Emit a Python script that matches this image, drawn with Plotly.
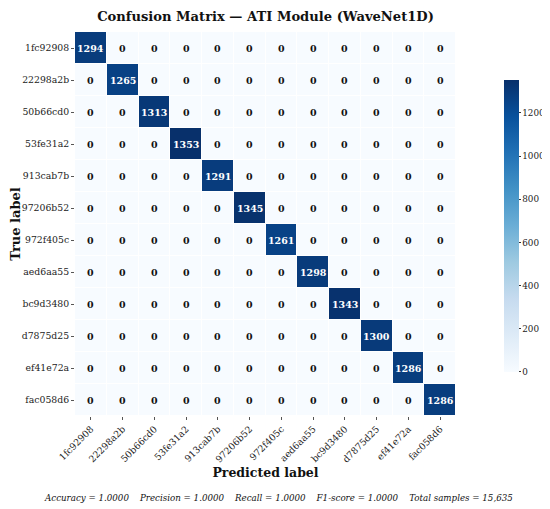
import plotly.graph_objects as go
import numpy as np

labels = ["1fc92908", "22298a2b", "50b66cd0", "53fe31a2", "913cab7b", "97206b52",
          "972f405c", "aed6aa55", "bc9d3480", "d7875d25", "ef41e72a", "fac058d6"]
diag_counts = [1294, 1265, 1313, 1353, 1291, 1345, 1261, 1298, 1343, 1300, 1286, 1286]
metrics_text = ("Accuracy = 1.0000    Precision = 1.0000    Recall = 1.0000    "
                "F1-score = 1.0000    Total samples = 15,635")

cm = np.diag(diag_counts)
n = len(labels)

blues = [[0.0, "#f7fbff"], [0.125, "#deebf7"], [0.25, "#c6dbef"], [0.375, "#9ecae1"],
         [0.5, "#6baed6"], [0.625, "#4292c6"], [0.75, "#2171b5"], [0.875, "#08519c"],
         [1.0, "#08306b"]]

font = "DejaVu Serif"
zmax = cm.max()

# page body has an 8px margin, so the figure is sized to 542x501
fig = go.Figure(go.Heatmap(
    z=cm, x=labels, y=labels,
    colorscale=blues, zmin=0, zmax=zmax,
    xgap=1, ygap=1,
    colorbar=dict(thickness=15, len=0.8125, x=1.0997, xanchor="left", y=0.495, yanchor="middle",
                  outlinewidth=0, ticks="outside", ticklen=2, tickcolor="#333",
                  tickvals=[0, 200, 400, 600, 800, 1000, 1200],
                  tickfont=dict(family=font, size=8.8, color="#222")),
    hoverinfo="skip",
))

annotations = []
for i in range(n):
    for j in range(n):
        v = cm[i, j]
        annotations.append(dict(
            x=labels[j], y=labels[i], text="<b>%d</b>" % v, showarrow=False,
            font=dict(family=font, size=9.5, color="white" if v > zmax / 2 else "#111")))

annotations.append(dict(
    x=0.535, y=-0.2135, xref="paper", yref="paper", text="<i>%s</i>" % metrics_text,
    showarrow=False, font=dict(family=font, size=8.7, color="#111"),
    xanchor="center", yanchor="middle"))

fig.update_layout(
    width=542, height=501,
    margin=dict(l=67, r=94, t=24, b=93, autoexpand=False),
    paper_bgcolor="white", plot_bgcolor="white",
    title=dict(text="<b>Confusion Matrix — ATI Module (WaveNet1D)</b>", x=0.5, xref="paper",
               y=0.983, yanchor="middle", font=dict(family=font, size=13.1, color="#111")),
    xaxis=dict(title=dict(text="<b>Predicted label</b>", font=dict(family=font, size=12.5, color="#111"),
                          standoff=0),
               automargin=False,
               tickangle=-45, ticks="outside", ticklen=3, tickcolor="#555",
               tickfont=dict(family=font, size=9.3, color="#222"), showgrid=False, zeroline=False),
    yaxis=dict(title=dict(text="<b>True label</b>", font=dict(family=font, size=13, color="#111"),
                          standoff=10),
               automargin=False,
               autorange="reversed", ticks="outside", ticklen=3, tickcolor="#555",
               tickfont=dict(family=font, size=9.3, color="#222"), showgrid=False, zeroline=False),
    annotations=annotations,
)

fig.write_html("out.html")
